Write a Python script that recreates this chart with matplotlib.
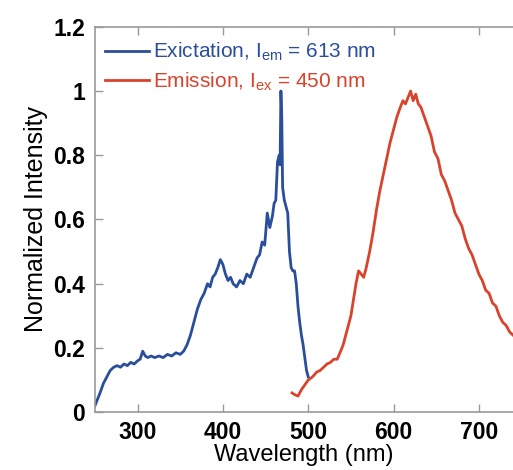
import numpy as np
import matplotlib.pyplot as plt

plt.rcParams['font.family'] = ['Liberation Sans', 'DejaVu Sans']
plt.rcParams['mathtext.fontset'] = 'custom'
plt.rcParams['mathtext.rm'] = 'Liberation Sans'
plt.rcParams['mathtext.it'] = 'Liberation Sans'

# Excitation spectrum (blue)
ex_wl = [250, 253, 256, 260, 264, 268, 272, 276, 280, 284, 288, 292, 296, 300,
         303, 306, 309, 312, 316, 320, 325, 330, 335, 340, 345, 350, 354,
         358, 362, 366, 370, 374, 378, 382, 385, 388, 391, 394, 397, 400,
         403, 406, 409, 412, 416, 420, 424, 428, 432, 436, 440, 443, 446,
         449, 452, 455, 458, 460, 462, 464, 466, 467, 468, 469, 470, 472,
         474, 476, 478, 480, 482, 484, 486, 488, 490, 492, 494, 496, 498, 500]
ex_int = [0.02, 0.04, 0.06, 0.09, 0.11, 0.13, 0.14, 0.145, 0.14, 0.15, 0.145, 0.155, 0.15, 0.16,
          0.165, 0.19, 0.175, 0.17, 0.175, 0.17, 0.175, 0.17, 0.18, 0.175, 0.185, 0.18, 0.19,
          0.21, 0.24, 0.28, 0.32, 0.35, 0.37, 0.40, 0.39, 0.42, 0.43, 0.45, 0.475, 0.46,
          0.43, 0.41, 0.42, 0.40, 0.39, 0.41, 0.40, 0.43, 0.42, 0.45, 0.48, 0.49, 0.53,
          0.52, 0.62, 0.575, 0.61, 0.65, 0.66, 0.78, 0.80, 0.77, 1.0, 0.92, 0.70, 0.66,
          0.64, 0.62, 0.50, 0.45, 0.44, 0.44, 0.40, 0.33, 0.28, 0.24, 0.21, 0.17, 0.13, 0.11]

# Emission spectrum (red)
em_wl = [481, 484, 488, 492, 496, 500, 505, 510, 514, 518, 522, 526, 530, 534,
         538, 541, 544, 547, 550, 553, 556, 559, 562, 565, 568, 572, 576,
         580, 584, 588, 592, 596, 600, 604, 608, 611, 614, 617, 620, 623,
         626, 629, 632, 636, 640, 644, 648, 652, 656, 660, 664, 668, 672,
         676, 680, 684, 688, 692, 696, 700, 704, 708, 712, 716, 720, 724,
         728, 732, 736, 740]
em_int = [0.06, 0.055, 0.05, 0.07, 0.085, 0.10, 0.11, 0.125, 0.13, 0.14, 0.15, 0.155, 0.165, 0.165,
          0.19, 0.21, 0.24, 0.27, 0.30, 0.35, 0.40, 0.44, 0.43, 0.42, 0.45, 0.50, 0.56,
          0.63, 0.69, 0.74, 0.79, 0.84, 0.88, 0.92, 0.95, 0.97, 0.96, 0.98, 1.0, 0.97,
          0.99, 0.96, 0.95, 0.92, 0.89, 0.86, 0.81, 0.79, 0.74, 0.72, 0.69, 0.66, 0.62,
          0.60, 0.58, 0.54, 0.51, 0.49, 0.46, 0.43, 0.41, 0.38, 0.37, 0.34, 0.33, 0.30,
          0.28, 0.27, 0.25, 0.24]

blue = '#2a4e9b'
red = '#d8432b'

fig = plt.figure(figsize=(5.13, 4.70), dpi=100)
ax = fig.add_axes([0.185, 0.123, 0.815, 0.820])

ax.plot(ex_wl, ex_int, color=blue, lw=2.0, label='Exictation, I$_{\\mathrm{em}}$ = 613 nm')
ax.plot(em_wl, em_int, color=red, lw=2.0, label='Emission, I$_{\\mathrm{ex}}$ = 450 nm')

ax.set_xlim(250, 740)
ax.set_ylim(0, 1.2)
ax.set_xticks([300, 400, 500, 600, 700])
ax.set_yticks([0, 0.2, 0.4, 0.6, 0.8, 1, 1.2])
ax.set_yticklabels(['0', '0.2', '0.4', '0.6', '0.8', '1', '1.2'])

for s in ['left', 'bottom', 'top']:
    ax.spines[s].set_color('#999999')
    ax.spines[s].set_linewidth(1.2)
ax.spines['right'].set_visible(False)
ax.tick_params(direction='in', top=True, length=6, width=1, color='#999999',
               labelsize=16.5, pad=7)
ax.tick_params(axis='x', pad=6)
for lab in ax.get_xticklabels() + ax.get_yticklabels():
    lab.set_fontweight('bold')

ax.set_xlabel('Wavelength (nm)', fontsize=17, labelpad=0)
ax.set_ylabel('Normalized Intensity', fontsize=18, labelpad=4)

leg = ax.legend(loc='upper left', frameon=False, fontsize=15, handlelength=2.1,
                handletextpad=0.2, labelspacing=0.35, borderaxespad=0.1,
                bbox_to_anchor=(0.0, 0.99))
for t, c in zip(leg.get_texts(), [blue, red]):
    t.set_color(c)

fig.savefig('out.png', dpi=100)
